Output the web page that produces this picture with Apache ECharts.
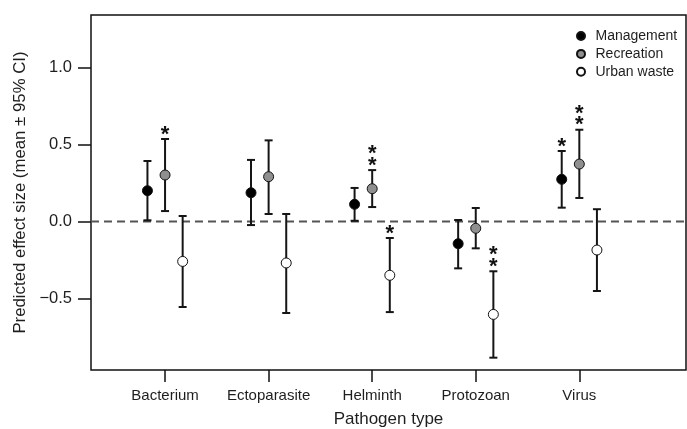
<!DOCTYPE html>
<html>
<head>
<meta charset="utf-8">
<script src="https://cdn.jsdelivr.net/npm/echarts@6/dist/echarts.min.js"></script>
<style>
  html, body { margin: 0; padding: 0; background: #fff; }
  #chart { width: 687px; height: 429px; }
</style>
</head>
<body>
<div id="chart"></div>
<script>
// ---- data ----
const categories = ['Bacterium', 'Ectoparasite', 'Helminth', 'Protozoan', 'Virus'];
const seriesNames = ['Management', 'Recreation', 'Urban waste'];

const mgmtMean = [0.200, 0.187, 0.112, -0.144, 0.274];
const mgmtLow  = [0.008, -0.023, 0.005, -0.304, 0.090];
const mgmtHigh = [0.393, 0.400, 0.218, 0.010, 0.458];
const mgmtStars = [0, 0, 0, 0, 1];

const recMean = [0.302, 0.291, 0.213, -0.044, 0.373];
const recLow  = [0.068, 0.049, 0.094, -0.174, 0.153];
const recHigh = [0.536, 0.527, 0.334, 0.088, 0.596];
const recStars = [1, 0, 2, 0, 2];

const urbMean = [-0.259, -0.269, -0.349, -0.603, -0.185];
const urbLow  = [-0.555, -0.594, -0.588, -0.884, -0.451];
const urbHigh = [0.036, 0.049, -0.107, -0.323, 0.080];
const urbStars = [0, 0, 1, 2, 0];

const yTickValues = [-0.5, 0, 0.5, 1.0];
const xTickValues = [1, 2, 3, 4, 5];

// ---- styling / layout ----
const FONT = 'Liberation Sans, Arial, Helvetica, sans-serif';
const TEXT = '#1e1e1e';
const groupOffsets = [-0.17, 0, 0.17];
const fills = ['#000000', '#8f8f8f', '#ffffff'];
const STAR_SIZE = 22;

const groups = [
  { mean: mgmtMean, low: mgmtLow, high: mgmtHigh, stars: mgmtStars },
  { mean: recMean, low: recLow, high: recHigh, stars: recStars },
  { mean: urbMean, low: urbLow, high: urbHigh, stars: urbStars }
];

function errorRender(params, api) {
  const x = api.value(0);
  const lo = api.coord([x, api.value(1)]);
  const hi = api.coord([x, api.value(2)]);
  const stars = api.value(3);
  const cap = 4;
  const lineStyle = { stroke: '#151515', lineWidth: 2 };
  const children = [
    { type: 'line', shape: { x1: lo[0], y1: lo[1], x2: hi[0], y2: hi[1] }, style: lineStyle },
    { type: 'line', shape: { x1: lo[0] - cap, y1: lo[1], x2: lo[0] + cap, y2: lo[1] }, style: lineStyle },
    { type: 'line', shape: { x1: hi[0] - cap, y1: hi[1], x2: hi[0] + cap, y2: hi[1] }, style: lineStyle }
  ];
  for (let s = 0; s < stars; s++) {
    const cy = hi[1] - 9 - s * 11.5;
    children.push({
      type: 'text',
      x: hi[0], y: cy + 0.21 * STAR_SIZE,
      style: { text: '*', fontSize: STAR_SIZE, fontFamily: FONT, fontWeight: 'bold',
               fill: '#111', align: 'center', verticalAlign: 'middle' }
    });
  }
  return { type: 'group', children };
}

const series = [];
groups.forEach((g, i) => {
  series.push({
    type: 'custom',
    name: seriesNames[i] + ' CI',
    renderItem: errorRender,
    data: categories.map((c, k) => [k + 1 + groupOffsets[i], g.low[k], g.high[k], g.stars[k]]),
    encode: { x: 0, y: [1, 2] },
    z: 3,
    silent: true
  });
});
groups.forEach((g, i) => {
  series.push({
    type: 'scatter',
    name: seriesNames[i],
    symbol: 'circle',
    symbolSize: 10,
    itemStyle: { color: fills[i], borderColor: '#111', borderWidth: 1, opacity: 1 },
    data: categories.map((c, k) => [k + 1 + groupOffsets[i], g.mean[k]]),
    z: 5
  });
});
// zero reference line
series.push({
  type: 'line',
  name: 'zero',
  data: [[0.285, 0], [6.03, 0]],
  symbol: 'none',
  lineStyle: { color: '#555', width: 2, type: [8, 5] },
  z: 1,
  silent: true
});

const option = {
  animation: false,
  backgroundColor: '#fff',
  textStyle: { fontFamily: FONT },
  grid: {
    left: 91, top: 15, right: 1, bottom: 59,
    outerBoundsMode: 'none',
    containLabel: false,
    show: true, borderColor: '#111', borderWidth: 1.5, backgroundColor: 'transparent'
  },
  legend: {
    data: seriesNames,
    orient: 'vertical',
    left: 571, top: 24,
    icon: 'circle',
    itemWidth: 19, itemHeight: 8,
    itemGap: 3.9,
    textStyle: { fontSize: 14, color: TEXT, fontFamily: FONT }
  },
  xAxis: {
    type: 'value',
    min: 0.285, max: 6.03,
    name: 'Pathogen type',
    nameLocation: 'middle',
    nameGap: 41,
    nameTextStyle: { fontSize: 17, color: TEXT, fontFamily: FONT },
    splitLine: { show: false },
    axisLine: { show: false, onZero: false },
    axisTick: { show: true, customValues: xTickValues, length: 12, lineStyle: { color: '#111', width: 1.5 } },
    axisLabel: {
      customValues: xTickValues,
      formatter: v => categories[Math.round(v) - 1] || '',
      fontSize: 15, color: TEXT, margin: 18, fontFamily: FONT
    }
  },
  yAxis: {
    type: 'value',
    min: -0.964, max: 1.341,
    name: 'Predicted effect size (mean \u00b1 95% CI)',
    nameLocation: 'middle',
    nameGap: 56,
    nameTextStyle: { fontSize: 16.8, color: TEXT, fontFamily: FONT },
    splitLine: { show: false },
    axisLine: { show: false, onZero: false },
    axisTick: { show: true, customValues: yTickValues, length: 13, lineStyle: { color: '#111', width: 1.5 } },
    axisLabel: {
      customValues: yTickValues,
      formatter: v => (v < 0 ? '\u2212' + Math.abs(v).toFixed(1) : v.toFixed(1)),
      fontSize: 16.5, color: TEXT, margin: 19, fontFamily: FONT
    }
  },
  series
};

const chart = echarts.init(document.getElementById('chart'), null, { renderer: 'canvas' });
chart.setOption(option);
</script>
</body>
</html>
